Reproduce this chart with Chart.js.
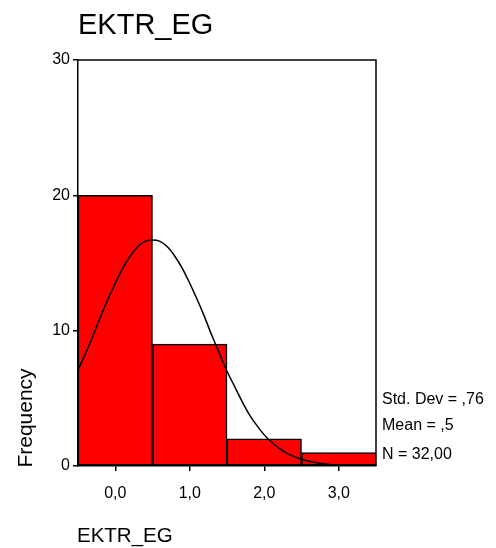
<!DOCTYPE html>
<html>
<head>
<meta charset="utf-8">
<script src="https://cdn.jsdelivr.net/npm/chart.js@4/dist/chart.umd.min.js"></script>
<style>
  html, body { margin: 0; padding: 0; background: #fff; }
  #wrap { width: 496px; height: 548px; position: relative; }
</style>
</head>
<body>
<div id="wrap"><canvas id="histChart" width="496" height="548"></canvas></div>
<script>
// histogram bins (midpoints) and counts
const binMids = [0, 1, 2, 3];
const binCounts = [20, 9, 2, 1];
const yTicks = [0, 10, 20, 30];
const xTicks = [0, 1, 2, 3];

// normal curve
const curveX = [-0.5, -0.4, -0.3, -0.2, -0.1, 0.0, 0.1, 0.2, 0.3, 0.4, 0.5, 0.6, 0.7, 0.8, 0.9, 1.0,
                1.1, 1.2, 1.3, 1.4, 1.5, 1.6, 1.7, 1.8, 1.9, 2.0, 2.1, 2.2, 2.3, 2.4, 2.5, 2.6,
                2.7, 2.8, 2.9, 3.0, 3.1, 3.2];
const curveY = [7.1, 8.3, 9.6, 11.0, 12.3, 13.5, 14.6, 15.5, 16.2, 16.6, 16.7, 16.6, 16.2, 15.5, 14.6, 13.5,
                12.3, 11.0, 9.6, 8.3, 7.0, 5.9, 4.8, 3.8, 3.0, 2.3, 1.75, 1.3, 0.95, 0.7, 0.5, 0.35,
                0.24, 0.16, 0.1, 0.06, 0.03, 0.01];

const title = 'EKTR_EG';
const xTitle = 'EKTR_EG';
const yTitle = 'Frequency';
const statLines = ['Std. Dev = ,76', 'Mean = ,5', 'N = 32,00'];

const FONT = 'Arial, "Liberation Sans", sans-serif';

// fmt 1 -> "1,0"
function commaFmt(v) {
    return v.toFixed(1).replace('.', ',');
}

const textPlugin = {
    id: 'spssText',
    afterDraw(chart) {
        const c = chart.ctx;
        const a = chart.chartArea;
        c.save();
        // frame top + right
        c.strokeStyle = '#000';
        c.lineWidth = 1.5;
        c.beginPath();
        c.moveTo(a.left, a.top);
        c.lineTo(a.right, a.top);
        c.lineTo(a.right, a.bottom);
        c.stroke();

        c.fillStyle = '#000';
        c.textBaseline = 'alphabetic';
        c.textAlign = 'left';
        c.font = '29px ' + FONT;
        c.fillText(title, 78, 34);

        c.font = '20.5px ' + FONT;
        c.fillText(xTitle, 77, 542);

        c.font = '16px ' + FONT;
        const baselines = [404, 430, 459];
        statLines.forEach((s, i) => {
            c.fillText(s, 382, baselines[i]);
        });

        c.translate(32, 418);
        c.rotate(-Math.PI / 2);
        c.textAlign = 'center';
        c.font = '21px ' + FONT;
        c.fillText(yTitle, 0, 0);
        c.restore();
    }
};

new Chart(document.getElementById('histChart'), {
    type: 'bar',
    data: {
        datasets: [
            {
                type: 'line',
                data: curveX.map((x, i) => ({ x: x, y: curveY[i] })),
                borderColor: '#000',
                borderWidth: 1.5,
                pointRadius: 0,
                fill: false,
                tension: 0.3,
                order: 0
            },
            {
                type: 'bar',
                data: binMids.map((x, i) => ({ x: x, y: binCounts[i] })),
                backgroundColor: '#ff0000',
                borderColor: '#000',
                borderWidth: 1.5,
                borderSkipped: false,
                barPercentage: 1,
                categoryPercentage: 1,
                order: 1
            }
        ]
    },
    options: {
        responsive: false,
        animation: false,
        layout: { padding: { top: 60, right: 120, left: 0, bottom: 0 } },
        plugins: { legend: { display: false }, tooltip: { enabled: false } },
        scales: {
            x: {
                type: 'linear',
                offset: false,
                min: -0.5,
                max: 3.5,
                afterBuildTicks: s => { s.ticks = xTicks.map(v => ({ value: v })); },
                afterFit: s => { s.height = 82; },
                grid: { offset: false, drawOnChartArea: false, drawTicks: true, tickLength: 5, color: '#000', lineWidth: 1.5 },
                border: { display: true, color: '#000', width: 1.5 },
                ticks: {
                    color: '#000',
                    padding: 13,
                    font: { family: FONT, size: 16 },
                    callback: v => commaFmt(v)
                }
            },
            y: {
                min: 0,
                max: 30,
                afterBuildTicks: s => { s.ticks = yTicks.map(v => ({ value: v })); },
                afterFit: s => { s.width = 78; },
                grid: { drawOnChartArea: false, drawTicks: true, tickLength: 5, color: '#000', lineWidth: 1.5 },
                border: { display: true, color: '#000', width: 1.5 },
                ticks: {
                    color: '#000',
                    padding: 3,
                    font: { family: FONT, size: 16 }
                }
            }
        }
    },
    plugins: [textPlugin]
});
</script>
</body>
</html>
